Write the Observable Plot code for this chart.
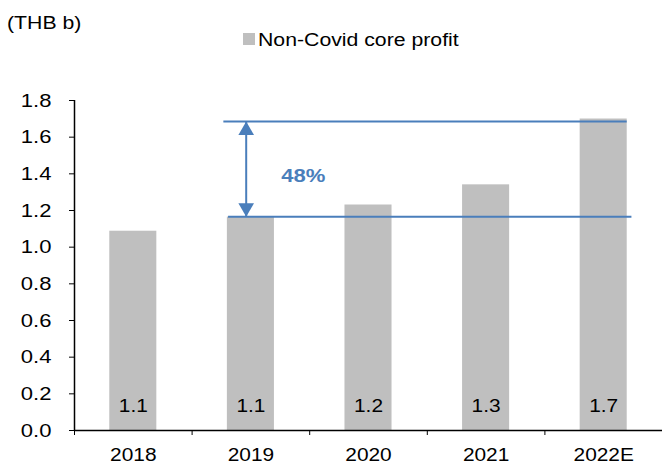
<!DOCTYPE html>
<html><head><meta charset="utf-8">
<script src="https://cdn.jsdelivr.net/npm/d3@7"></script>
<script src="https://cdn.jsdelivr.net/npm/@observablehq/plot@0.6"></script>
<style>
body{margin:0;background:#fff;font-family:"Liberation Sans",Arial,sans-serif;}
#wrap{position:relative;width:662px;height:466px;overflow:hidden;}
.hd{position:absolute;font-size:18px;line-height:18px;color:#000;white-space:nowrap;transform:scaleX(1.18);transform-origin:0 0;}
#unit{left:7px;top:14px;}
#legtext{left:258px;top:31px;}
#sw{position:absolute;left:243px;top:33px;width:12px;height:12px;background:#bfbfbf;}
</style></head>
<body><div id="wrap"><div id="unit" class="hd">(THB b)</div><div id="sw"></div><div id="legtext" class="hd">Non-Covid core profit</div></div>
<script>
const categories = ["2018", "2019", "2020", "2021", "2022E"];
const values = [1.087, 1.164, 1.23, 1.34, 1.699];
const valueLabels = ["1.1", "1.1", "1.2", "1.3", "1.7"];
const yTicks = [0, 0.2, 0.4, 0.6, 0.8, 1.0, 1.2, 1.4, 1.6, 1.8];
const highLine = 1.685, lowLine = 1.166;
const growthLabel = "48%";

const data = categories.map((c, i) => ({i, c, v: values[i], label: valueLabels[i]}));
const blue = "#4a7ebb";
const font = "Liberation Sans, Arial, sans-serif";

const chart = Plot.plot({
  width: 662, height: 466,
  marginTop: 100, marginBottom: 36, marginLeft: 74, marginRight: 0,
  style: {fontFamily: font, fontSize: "18px", color: "#000", background: "transparent", overflow: "visible"},
  x: {type: "linear", domain: [-0.5, 4.5], label: null},
  y: {domain: [0, 1.8], label: null},
  marks: [
    Plot.rectY(data, {x1: d => d.i - 0.2, x2: d => d.i + 0.2, y: "v", fill: "#bfbfbf"}),
    Plot.text(data, {x: "i", y: 0, text: "label", dy: -24, fontSize: 18, fill: "#000"}),
    Plot.ruleY([highLine], {x1: 0.77, x2: 4.2, stroke: blue, strokeWidth: 2}),
    Plot.ruleY([lowLine], {x1: 0.81, x2: 4.24, stroke: blue, strokeWidth: 2}),
    Plot.ruleX([0.96], {y1: lowLine, y2: highLine, stroke: blue, strokeWidth: 2}),
    Plot.dot([highLine], {x: 0.96, y: d => d, dy: 9, symbol: "triangle", r: 5.8, fill: blue, stroke: null}),
    Plot.dot([lowLine], {x: 0.96, y: d => d, dy: -9, symbol: "triangle", r: 5.8, rotate: 180, fill: blue, stroke: null}),
    Plot.text([growthLabel], {x: 1.445, y: 1.39, text: d => d, fill: blue, fontWeight: "bold", fontSize: 19}),
    Plot.axisY({ticks: yTicks, tickFormat: d3.format(".1f"), tickSize: 5, tickPadding: 18, fontSize: 19, label: null}),
    Plot.axisX({ticks: [-0.5, 0.5, 1.5, 2.5, 3.5, 4.5], tickSize: 5, tickFormat: () => "", label: null}),
    Plot.axisX({ticks: [0, 1, 2, 3, 4], tickSize: 0, tickPadding: 18, tickFormat: i => categories[i], fontSize: 18, label: null}),
    Plot.ruleX([-0.5], {y1: 0, y2: 1.8, stroke: "#000", strokeWidth: 1.5}),
    Plot.ruleY([0], {x1: -0.5, x2: 4.5, stroke: "#000", strokeWidth: 1.5})
  ]
});
// mimic the horizontally stretched text of the reference
chart.querySelectorAll("text").forEach(t => {
  const tr = t.getAttribute("transform");
  if (tr) t.setAttribute("transform", tr + " scale(1.16,1)");
});
chart.style.position = "absolute";
chart.style.left = "0";
chart.style.top = "0";
document.getElementById("wrap").prepend(chart);
</script>
</body></html>
